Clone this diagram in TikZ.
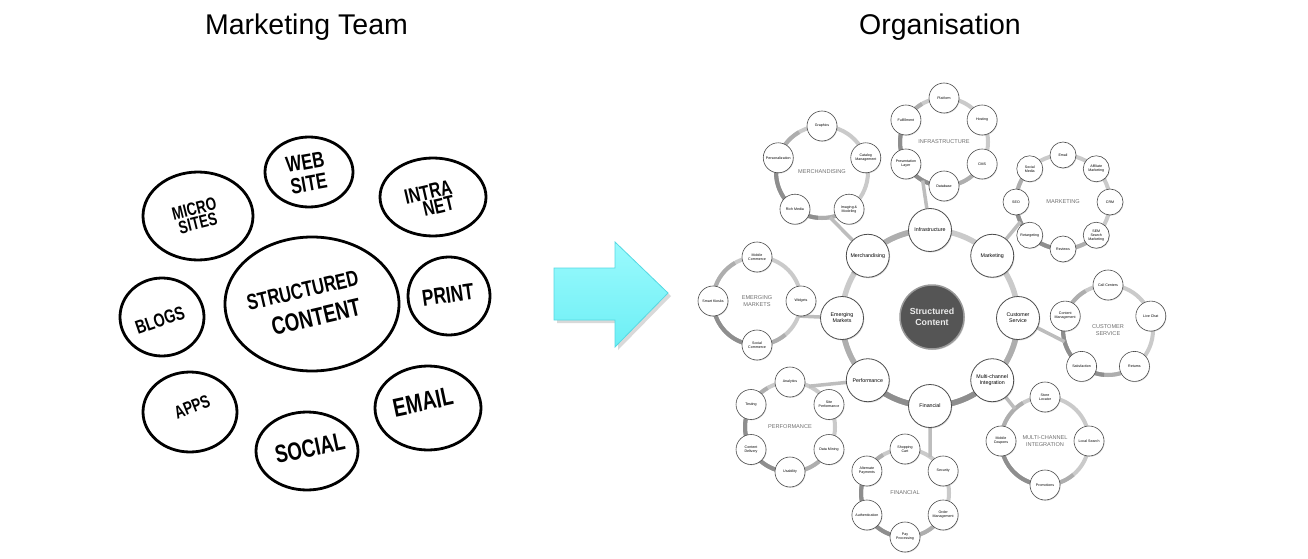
\documentclass[tikz,border=0pt]{standalone}
\usepackage{fontspec}
\setmainfont{Liberation Sans}
\newfontfamily\handfont[FakeStretch=0.75]{Liberation Sans}
\usetikzlibrary{shapes.geometric,shadows,calc}
\pgfdeclarelayer{bg}
\pgfsetlayers{bg,main}
\definecolor{arrowtop}{HTML}{9AFAFD}
\definecolor{arrowbot}{HTML}{6DEFF5}
\definecolor{arrowedge}{HTML}{55D9E3}
\definecolor{ringlight}{HTML}{CACACA}
\definecolor{ringmid}{HTML}{AEAEAE}
\definecolor{ringdark}{HTML}{8E8E8E}
\definecolor{conngray}{HTML}{BDBDBD}
\definecolor{labgray}{HTML}{707070}
\definecolor{corefill}{HTML}{555555}
\tikzset{
  title/.style={font=\fontsize{28.5}{32}\selectfont, text=black, inner sep=0},
  sketchell/.style={ellipse, draw=black, line width=2.8pt, inner sep=0},
  hw/.style={font=\handfont\bfseries, inner sep=0, align=center},
  mainring/.style={draw=ringlight, line width=5.5pt},
  clring/.style={draw=ringlight, line width=4pt},
  conn/.style={draw=conngray, line width=3.5pt},
  sat/.style={circle, draw=black!70, line width=0.8pt, fill=white, minimum size=43pt, inner sep=0,
    align=center, font=\fontsize{5.3}{6}\selectfont,
    drop shadow={opacity=0.3, shadow xshift=0.8pt, shadow yshift=-1pt}},
  small/.style={circle, draw=black!70, line width=0.6pt, fill=white, minimum size=30pt, inner sep=0,
    align=center, font=\fontsize{3.6}{4}\selectfont,
    drop shadow={opacity=0.3, shadow xshift=0.6pt, shadow yshift=-0.8pt}},
  smaller/.style={small, minimum size=26pt},
  core/.style={circle, draw=black!40, line width=1.5pt, fill=corefill, minimum size=64pt, inner sep=0,
    align=center, text=white!92!black, font=\bfseries\fontsize{8.8}{10.5}\selectfont,
    drop shadow={opacity=0.3, shadow xshift=1pt, shadow yshift=-1pt}},
  clab/.style={align=center, text=labgray, font=\fontsize{5.6}{6.4}\selectfont, inner sep=0},
}
\begin{document}
\begin{tikzpicture}[x=1pt,y=1pt]
\useasboundingbox (0,0) rectangle (1308,-559);
\begin{pgfonlayer}{bg}
  \fill[white] (0,0) rectangle (1308,-559);
\end{pgfonlayer}

% titles
\node[title] (t1) at (306.5,-27) {Marketing Team};
\node[title] (t2) at (940,-27) {Organisation};

% ---------------- sketch ----------------
\node[sketchell, minimum width=88, minimum height=70] (eWeb) at (309,-172) {};
\node[sketchell, minimum width=110, minimum height=88] (eMicro) at (198,-216) {};
\node[sketchell, minimum width=106, minimum height=78] (eIntra) at (433,-197) {};
\node[sketchell, minimum width=174, minimum height=134] (eSC) at (312,-304) {};
\node[sketchell, minimum width=84, minimum height=78] (eBlogs) at (162,-317) {};
\node[sketchell, minimum width=82, minimum height=78] (ePrint) at (449,-296) {};
\node[sketchell, minimum width=94, minimum height=80] (eApps) at (190,-412) {};
\node[sketchell, minimum width=102, minimum height=78] (eSocial) at (307,-451) {};
\node[sketchell, minimum width=106, minimum height=84] (eEmail) at (428,-408) {};

\node[hw, rotate=10, font=\handfont\bfseries\fontsize{22}{22}\selectfont] (wWeb) at (307,-173) {WEB\\SITE};
\node[hw, rotate=14, font=\handfont\bfseries\fontsize{18}{15}\selectfont] (wMicro) at (196,-216) {MICRO\\SITES};
\node[hw, rotate=13, font=\handfont\bfseries\fontsize{21}{16}\selectfont] (wIntra) at (430,-200) {INTRA\\\hspace*{14pt}NET};
\node[hw, rotate=13, font=\handfont\bfseries\fontsize{22}{30}\selectfont] (wSC) at (306,-305) {STRUCTURED\\\hspace*{14pt}\fontsize{25}{30}\selectfont CONTENT};
\node[hw, rotate=19, font=\handfont\bfseries\fontsize{19}{21}\selectfont] (wBlogs) at (160,-320) {BLOGS};
\node[hw, rotate=8, font=\handfont\bfseries\fontsize{23}{26}\selectfont] (wPrint) at (448,-295) {PRINT};
\node[hw, rotate=22, font=\handfont\bfseries\fontsize{18}{20}\selectfont] (wApps) at (192,-407) {APPS};
\node[hw, rotate=12, font=\handfont\bfseries\fontsize{25}{28}\selectfont] (wSocial) at (310,-448) {SOCIAL};
\node[hw, rotate=12, font=\handfont\bfseries\fontsize{26}{29}\selectfont] (wEmail) at (423,-402) {EMAIL};

% ---------------- arrow ----------------
\fill[black, opacity=0.15] (557,-271) -- (618,-271) -- (618,-245) -- (671,-296) -- (618,-350) -- (618,-323) -- (557,-323) -- cycle;
\shade[top color=arrowtop, bottom color=arrowbot, draw=arrowedge, line width=0.8pt]
  (554,-268) -- (615,-268) -- (615,-242) -- (668,-293) -- (615,-347) -- (615,-320) -- (554,-320) -- cycle;

% ---------------- organisation ----------------
\coordinate (C) at (930,-318);
\node[core] (sc) at (932,-317) {Structured\\Content};
\node[sat] (sInf)  at ($(C)+(90:88)$)   {Infrastructure};
\node[sat] (sMkt)  at ($(C)+(45:88)$)   {Marketing};
\node[sat] (sCS)   at ($(C)+(0:88)$)    {Customer\\Service};
\node[sat] (sMCI)  at ($(C)+(-45:88)$)  {Multi-channel\\Integration};
\node[sat] (sFin)  at ($(C)+(-90:88)$)  {Financial};
\node[sat] (sPerf) at ($(C)+(-135:88)$) {Performance};
\node[sat] (sEM)   at ($(C)+(180:88)$)  {Emerging\\Markets};
\node[sat] (sMer)  at ($(C)+(135:88)$)  {Merchandising};

% cluster centres
\coordinate (kMer)  at (822,-172);
\coordinate (kInf)  at (944,-142);
\coordinate (kMkt)  at (1063,-202);
\coordinate (kEM)   at (757,-301);
\coordinate (kCS)   at (1108,-330);
\coordinate (kPerf) at (790,-427);
\coordinate (kFin)  at (905,-493);
\coordinate (kMCI)  at (1045,-441);

% attachment points on cluster rings
\coordinate (aMer)  at ($(kMer)+(-80:46)$);
\coordinate (aInf)  at ($(kInf)+(-119:44)$);
\coordinate (aMkt)  at ($(kMkt)+(-155:47)$);
\coordinate (aEM)   at ($(kEM)+(-20:44)$);
\coordinate (aCS)   at ($(kCS)+(-165:45)$);
\coordinate (aPerf) at ($(kPerf)+(65:45)$);
\coordinate (aFin)  at ($(kFin)+(55:44)$);
\coordinate (aMCI)  at ($(kMCI)+(133:44)$);

% cluster labels
\node[clab] (lMer)  at (kMer)  {MERCHANDISING};
\node[clab] (lInf)  at (kInf)  {INFRASTRUCTURE};
\node[clab] (lMkt)  at (kMkt)  {MARKETING};
\node[clab] (lEM)   at (kEM)   {EMERGING\\MARKETS};
\node[clab] (lCS)   at (kCS)   {CUSTOMER\\SERVICE};
\node[clab] (lPerf) at (kPerf) {PERFORMANCE};
\node[clab] (lFin)  at (kFin)  {FINANCIAL};
\node[clab] (lMCI)  at (kMCI)  {MULTI-CHANNEL\\INTEGRATION};

% cluster items
\foreach \a/\t [count=\i] in {90/Graphics, 18/Catalog\\Management, -54/Imaging \&\\Modeling, -126/Rich Media, 162/Personalization}
  \node[small] (mer\i) at ($(kMer)+(\a:46)$) {\t};
\foreach \a/\t [count=\i] in {90/Platform, 30/Hosting, -30/CMS, -90/Database, -150/Presentation\\Layer, 150/Fulfillment}
  \node[small] (inf\i) at ($(kInf)+(\a:44)$) {\t};
\foreach \a/\t [count=\i] in {90/Email, 45/Affiliate\\Marketing, 0/CRM, -45/SEM\\Search\\Marketing, -90/Reviews, -135/Retargeting, 180/SEO, 135/Social\\Media}
  \node[smaller] (mkt\i) at ($(kMkt)+(\a:47)$) {\t};
\foreach \a/\t [count=\i] in {90/Mobile\\Commerce, 0/Widgets, -90/Social\\Commerce, 180/Smart Kiosks}
  \node[small] (em\i) at ($(kEM)+(\a:44)$) {\t};
\foreach \a/\t [count=\i] in {90/Call Centers, 18/Live Chat, -54/Returns, -126/Satisfaction, 162/Content\\Management}
  \node[small] (cs\i) at ($(kCS)+(\a:45)$) {\t};
\foreach \a/\t [count=\i] in {90/Analytics, 30/Site\\Performance, -30/Data Mining, -90/Usability, -150/Content\\Delivery, 150/Testing}
  \node[small] (perf\i) at ($(kPerf)+(\a:45)$) {\t};
\foreach \a/\t [count=\i] in {90/Shopping\\Cart, 30/Security, -30/Order\\Management, -90/Pay\\Processing, -150/Authentication, 150/Alternate\\Payments}
  \node[small] (fin\i) at ($(kFin)+(\a:44)$) {\t};
\foreach \a/\t [count=\i] in {90/Store\\Locator, 0/Local Search, -90/Promotions, 180/Mobile\\Coupons}
  \node[small] (mci\i) at ($(kMCI)+(\a:44)$) {\t};

% rings and connectors behind
\begin{pgfonlayer}{bg}
  \draw[mainring] (C) circle[radius=88];
  \draw[mainring, draw=ringmid] ($(C)+(-10:88)$) arc[start angle=-10, end angle=-170, radius=88];
  \draw[mainring, draw=ringdark] ($(C)+(-50:88)$) arc[start angle=-50, end angle=-130, radius=88];
  \draw[mainring, draw=ringmid] ($(C)+(100:88)$) arc[start angle=100, end angle=150, radius=88];
  \foreach \k/\r in {kMer/46, kInf/44, kMkt/47, kEM/44, kCS/45, kPerf/45, kFin/44, kMCI/44} {
    \draw[clring] (\k) circle[radius=\r];
    \draw[clring, draw=ringmid] ($(\k)+(120:\r)$) arc[start angle=120, end angle=310, radius=\r];
    \draw[clring, draw=ringdark] ($(\k)+(170:\r)$) arc[start angle=170, end angle=265, radius=\r];
  }
  \draw[conn] (aMer) -- (sMer);
  \draw[conn] (aInf) -- (sInf);
  \draw[conn] (aMkt) -- (sMkt);
  \draw[conn] (aEM) -- (sEM);
  \draw[conn] (aCS) -- (sCS);
  \draw[conn] (aPerf) -- (sPerf);
  \draw[conn] (aFin) -- (sFin);
  \draw[conn] (aMCI) -- (sMCI);
\end{pgfonlayer}
\end{tikzpicture}
\end{document}
